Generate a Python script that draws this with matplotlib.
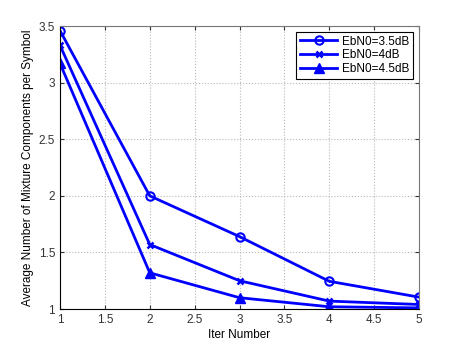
import matplotlib
matplotlib.use("Agg")
import matplotlib.pyplot as plt

iters = [1, 2, 3, 4, 5]
ebn0_35 = [3.46, 2.00, 1.64, 1.245, 1.105]
ebn0_40 = [3.33, 1.57, 1.25, 1.07, 1.04]
ebn0_45 = [3.17, 1.32, 1.10, 1.02, 1.01]
labels = ["EbN0=3.5dB", "EbN0=4dB", "EbN0=4.5dB"]

plt.rcParams["font.family"] = ["Liberation Sans", "DejaVu Sans"]
plt.rcParams["font.size"] = 8.5

fig = plt.figure(figsize=(4.63, 3.48), dpi=100)
ax = fig.add_axes([0.1296, 0.112, 0.7754, 0.813])

blue = "#0000ff"
ax.plot(iters, ebn0_35, "-o", color=blue, lw=2, ms=6, mfc="none", mew=1.5, label=labels[0])
ax.plot(iters, ebn0_40, "-x", color=blue, lw=2, ms=5, mew=1.8, label=labels[1])
ax.plot(iters, ebn0_45, "-^", color=blue, lw=2, ms=7, label=labels[2])

ax.set_xlim(1, 5)
ax.set_ylim(1, 3.5)
ax.set_xticks([1, 1.5, 2, 2.5, 3, 3.5, 4, 4.5, 5])
ax.set_xticklabels(["1", "1.5", "2", "2.5", "3", "3.5", "4", "4.5", "5"])
ax.set_yticks([1, 1.5, 2, 2.5, 3, 3.5])
ax.set_yticklabels(["1", "1.5", "2", "2.5", "3", "3.5"])
ax.grid(True, linestyle=":", color="#b8b8b8", linewidth=0.8)
ax.tick_params(direction="in", length=3, top=True, right=True, colors="#333333")
for side in ["top", "right"]:
    ax.spines[side].set_color("#777777")
ax.set_xlabel("Iter Number", labelpad=2)
ax.set_ylabel("Average Number of Mixture Components per Symbol", labelpad=3)

leg = ax.legend(loc="upper right", fancybox=False, framealpha=1, edgecolor="black",
                borderpad=0.3, labelspacing=0.15, handlelength=3.2, handletextpad=0.4,
                borderaxespad=0.5)
leg.get_frame().set_linewidth(0.8)

plt.savefig("out.png", dpi=100)
